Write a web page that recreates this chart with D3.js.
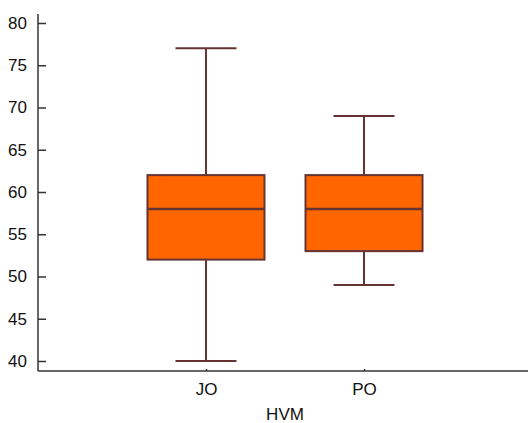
<!DOCTYPE html>
<html><head><meta charset="utf-8">
<script src="https://cdn.jsdelivr.net/npm/d3@7"></script>
<style>body{margin:0;background:#fff}svg{display:block}text{font-family:"Liberation Sans",Arial,sans-serif}</style>
</head><body>
<svg id="c" width="528" height="423"></svg>
<script>
const categories = ["JO", "PO"];
const mins = [40, 49];
const q1s = [52, 53];
const medians = [58, 58];
const q3s = [62, 62];
const maxs = [77, 69];
const yTicks = [40, 45, 50, 55, 60, 65, 70, 75, 80];
const xTitle = "HVM";

(function(){
const svg = d3.select("#c");
const mLeft = 38, mRight = 532, mTop = 14, mBottom = 371;
const y = d3.scaleLinear().domain([40, 80]).range([361, 23]);
const x = d3.scalePoint().domain(categories).range([mLeft, mRight]).padding(1.063);
const boxW = 117, capW = 61;
const stroke = "#663333", fill = "#FF6600", axisCol = "#333333";
const fs = 17;

// y axis
const ya = svg.append("g").attr("transform", `translate(${mLeft},0)`)
  .call(d3.axisLeft(y).tickValues(yTicks).tickSizeInner(-8).tickSizeOuter(0).tickPadding(11));
ya.select(".domain").remove();
ya.selectAll(".tick line").attr("stroke", axisCol).attr("stroke-width", 1.5);
ya.selectAll(".tick text").attr("font-size", fs).attr("fill", "#111");
svg.append("line").attr("x1", mLeft).attr("x2", mLeft).attr("y1", mTop).attr("y2", mBottom)
  .attr("stroke", axisCol).attr("stroke-width", 1.5);

// x axis
const xa = svg.append("g").attr("transform", `translate(0,${mBottom})`)
  .call(d3.axisBottom(x).tickSizeInner(-2).tickSizeOuter(0).tickPadding(12));
xa.select(".domain").remove();
xa.selectAll(".tick line").attr("stroke", axisCol).attr("stroke-width", 1.5);
xa.selectAll(".tick text").attr("font-size", fs).attr("fill", "#111");
svg.append("line").attr("x1", mLeft).attr("x2", 528).attr("y1", mBottom).attr("y2", mBottom)
  .attr("stroke", axisCol).attr("stroke-width", 1.5);

svg.append("text").attr("x", 285).attr("y", 420).attr("text-anchor", "middle")
  .attr("font-size", fs).attr("fill", "#111").text(xTitle);

const data = categories.map((c, i) => ({c, min: mins[i], q1: q1s[i], med: medians[i], q3: q3s[i], max: maxs[i]}));
const g = svg.append("g");
data.forEach(d => {
  const cx = x(d.c);
  g.append("line").attr("x1", cx).attr("x2", cx).attr("y1", y(d.max)).attr("y2", y(d.min))
    .attr("stroke", stroke).attr("stroke-width", 2);
  [d.max, d.min].forEach(v => g.append("line").attr("x1", cx - capW/2).attr("x2", cx + capW/2)
    .attr("y1", y(v)).attr("y2", y(v)).attr("stroke", stroke).attr("stroke-width", 2));
  g.append("rect").attr("x", cx - boxW/2).attr("width", boxW).attr("y", y(d.q3))
    .attr("height", y(d.q1) - y(d.q3)).attr("fill", fill).attr("stroke", stroke).attr("stroke-width", 2);
  g.append("line").attr("x1", cx - boxW/2).attr("x2", cx + boxW/2).attr("y1", y(d.med)).attr("y2", y(d.med))
    .attr("stroke", stroke).attr("stroke-width", 2.5);
});
})();
</script>
</body></html>
